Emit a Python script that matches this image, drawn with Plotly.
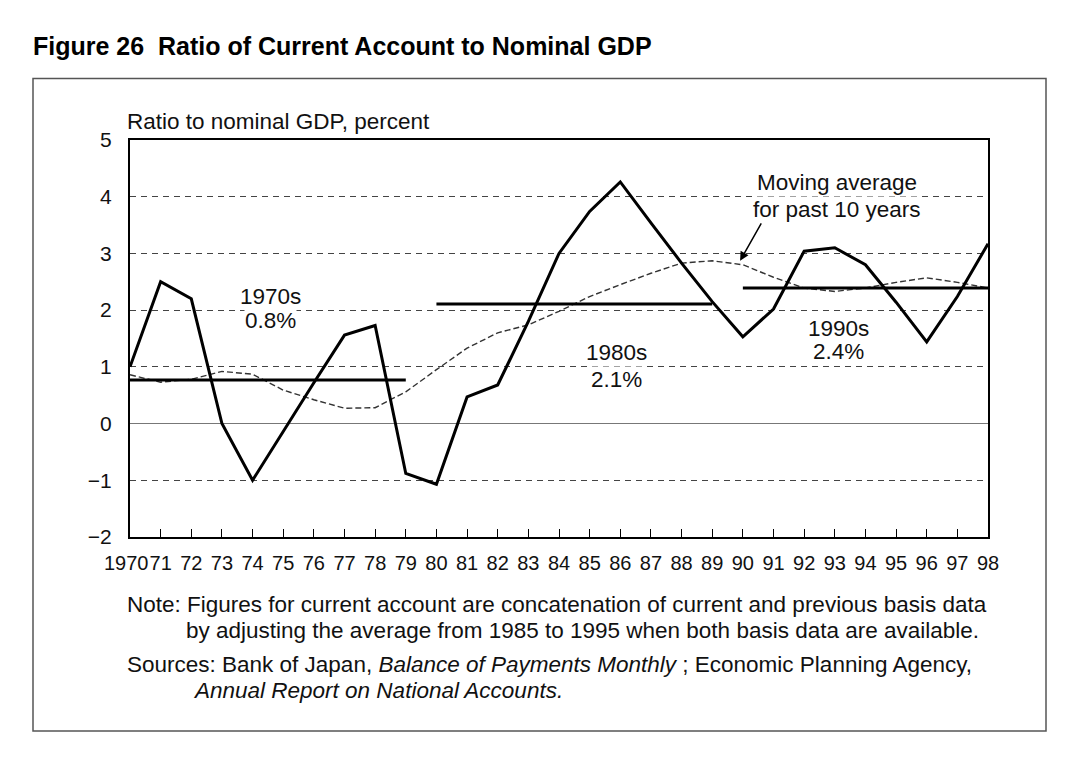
import plotly.graph_objects as go

years = list(range(1970, 1999))
first_year_label = "1970"
tick_labels = [""] + [f"{y % 100:02d}" for y in years[1:]]

current_account = [1.0, 2.5, 2.2, 0.0, -1.0, -0.13, 0.72, 1.56, 1.73, -0.88,
                   -1.07, 0.47, 0.68, 1.8, 3.0, 3.74, 4.26, 3.54, 2.83, 2.15,
                   1.53, 2.02, 3.04, 3.1, 2.8, 2.14, 1.44, 2.24, 3.17]

moving_avg = [0.86, 0.73, 0.78, 0.92, 0.87, 0.59, 0.42, 0.27, 0.28, 0.56,
              0.95, 1.33, 1.6, 1.74, 1.98, 2.24, 2.45, 2.65, 2.83, 2.87,
              2.8, 2.58, 2.39, 2.33, 2.39, 2.49, 2.57, 2.49, 2.39]

decade_start = [1970, 1980, 1990]
decade_end = [1979, 1989, 1998]
decade_avg = [0.77, 2.11, 2.39]
decade_names = ["1970s", "1980s", "1990s"]
decade_labels = ["0.8%", "2.1%", "2.4%"]
decade_label_x = [1974.57, 1985.88, 1993.11]
decade_name_y = [2.24, 1.26, 1.68]
decade_value_y = [1.81, 0.77, 1.27]

ma_label_lines = ["Moving average", "for past 10 years"]
ma_label_y = [4.25, 3.78]

y_ticks = [-2, -1, 0, 1, 2, 3, 4, 5]
y_tick_text = ["\u22122", "\u22121", "0", "1", "2", "3", "4", "5"]

FONT = "Liberation Sans, Arial, sans-serif"
FS = 22.5

fig = go.Figure()

fig.add_trace(go.Scatter(x=years, y=moving_avg, mode="lines",
                         line=dict(color="#333333", width=1.4, dash="6px,3px"),
                         hoverinfo="skip", showlegend=False))
for s, e, v in zip(decade_start, decade_end, decade_avg):
    fig.add_trace(go.Scatter(x=[s, e], y=[v, v], mode="lines",
                             line=dict(color="black", width=3),
                             hoverinfo="skip", showlegend=False))
fig.add_trace(go.Scatter(x=years, y=current_account, mode="lines",
                         line=dict(color="black", width=3),
                         hoverinfo="skip", showlegend=False))

annotations = []
for nm, lb, x, y1, y2 in zip(decade_names, decade_labels, decade_label_x,
                             decade_name_y, decade_value_y):
    for txt, yy in ((nm, y1), (lb, y2)):
        annotations.append(dict(x=x, y=yy, xref="x", yref="y", text=txt,
                                showarrow=False, font=dict(size=FS, color="#111"),
                                bgcolor="white", borderpad=0,
                                xanchor="center", yanchor="middle"))

for txt, yy in zip(ma_label_lines, ma_label_y):
    annotations.append(dict(x=1993.06, y=yy, xref="x", yref="y", text=txt,
                            showarrow=False, font=dict(size=FS, color="#111"),
                            bgcolor="white", borderpad=0,
                            xanchor="center", yanchor="middle"))
annotations.append(dict(x=1989.91, y=2.87, xref="x", yref="y", text="",
                        showarrow=True, arrowhead=2, arrowsize=1.2, arrowwidth=1.5,
                        arrowcolor="black", ax=22, ay=-39))

def px_x(p):
    return (p - 130) / 858

def px_y(p):
    return (537 - p) / 397

annotations.append(dict(x=years[0], y=px_y(563), xref="x", yref="paper",
                        text=first_year_label, showarrow=False, borderpad=0,
                        xanchor="center", yanchor="middle", xshift=-4,
                        font=dict(size=20, color="#111")))

annotations += [
    dict(x=px_x(31), y=px_y(46), xref="paper", yref="paper",
         text="<b>Figure 26  Ratio of Current Account to Nominal GDP</b>",
         showarrow=False, xanchor="left", yanchor="middle",
         font=dict(size=25, color="black")),
    dict(x=px_x(125), y=px_y(121), xref="paper", yref="paper",
         text="Ratio to nominal GDP, percent", showarrow=False,
         xanchor="left", yanchor="middle", font=dict(size=FS, color="#111")),
    dict(x=px_x(125), y=px_y(604), xref="paper", yref="paper",
         text="Note: Figures for current account are concatenation of current and previous basis data",
         showarrow=False, xanchor="left", yanchor="middle", font=dict(size=FS, color="#111")),
    dict(x=px_x(184), y=px_y(630), xref="paper", yref="paper",
         text="by adjusting the average from 1985 to 1995 when both basis data are available.",
         showarrow=False, xanchor="left", yanchor="middle", font=dict(size=FS, color="#111")),
    dict(x=px_x(125), y=px_y(664), xref="paper", yref="paper",
         text="Sources: Bank of Japan, <i>Balance of Payments Monthly</i> ; Economic Planning Agency,",
         showarrow=False, xanchor="left", yanchor="middle", font=dict(size=FS, color="#111")),
    dict(x=px_x(191), y=px_y(690), xref="paper", yref="paper",
         text="<i>Annual Report on National Accounts.</i>",
         showarrow=False, xanchor="left", yanchor="middle", font=dict(size=FS, color="#111")),
]

fig.update_layout(
    width=1080, height=757,
    margin=dict(l=122, r=100, t=132, b=228),
    paper_bgcolor="white", plot_bgcolor="white",
    font=dict(family=FONT, size=FS, color="#111"),
    annotations=annotations,
    shapes=[dict(type="rect", xref="paper", yref="paper",
                 x0=px_x(33), x1=px_x(1046), y0=px_y(731), y1=px_y(78.5),
                 line=dict(color="#555555", width=1.5), layer="below")],
)

fig.update_xaxes(range=[1970, 1998], tickvals=years, ticktext=tick_labels,
                 tickangle=0,
                 ticks="inside", ticklen=8, tickwidth=1, tickcolor="black",
                 showgrid=False, zeroline=False,
                 showline=True, linecolor="black", linewidth=2, mirror=True,
                 ticklabelstandoff=7,
                 tickfont=dict(size=20, color="#111"))
fig.update_yaxes(range=[-2, 5], tickvals=y_ticks, ticktext=y_tick_text,
                 ticks="", showgrid=True, gridcolor="#444444", gridwidth=1,
                 griddash="6px,5px",
                 zeroline=True, zerolinecolor="#777777", zerolinewidth=1,
                 showline=True, linecolor="black", linewidth=2, mirror=True,
                 ticklabelstandoff=12,
                 tickfont=dict(size=21, color="#111"))

fig.write_html("out.html")
